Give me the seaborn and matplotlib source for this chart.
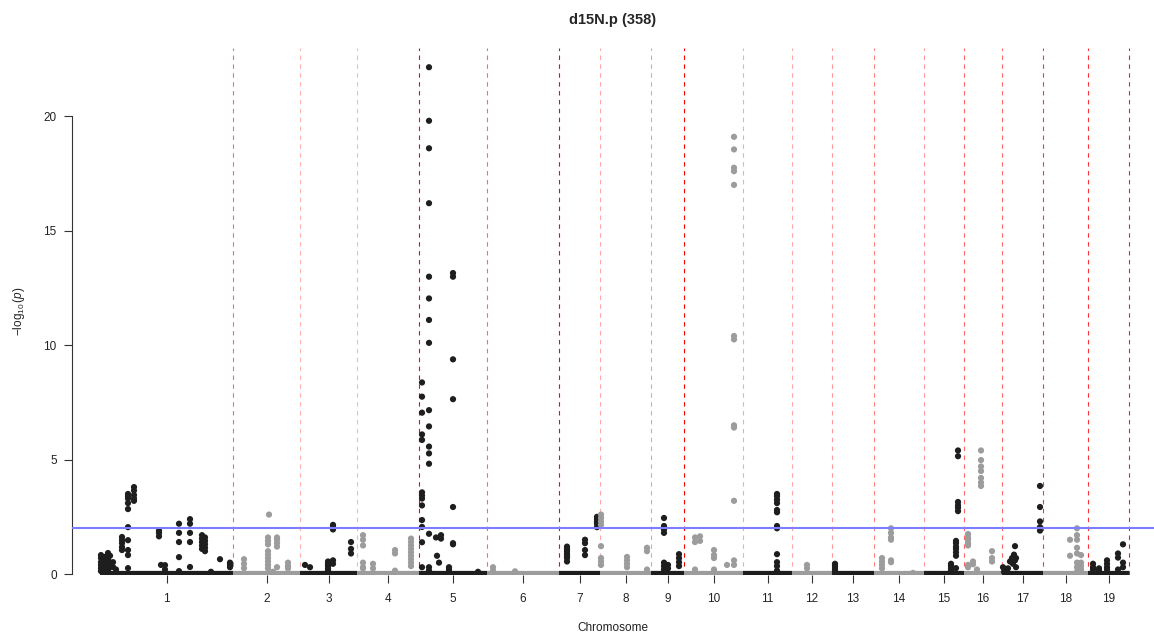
import numpy as np
import pandas as pd
import matplotlib
matplotlib.use('Agg')
import matplotlib.pyplot as plt
import seaborn as sns

# chromosome layout (length in plot units) and boundary line strength
chromosomes = list(range(1, 20))
chrom_len = [133, 67, 57, 62, 68, 72, 41, 51, 33, 59, 49, 40, 42, 50, 40, 38, 41, 45, 41]
line_alpha = [0.6, 0.3, 0.3, 1.0, 0.6, 1.0, 0.35, 0.4, 1.0, 0.35,
              0.35, 0.4, 0.5, 0.4, 0.6, 0.6, 0.8, 0.8, 0.9]
threshold = 2
title = 'd15N.p (358)'

# marker positions within each chromosome and their -log10(p)
snp_pos = [
    [1, 1, 1, 1, 1, 1, 3, 3, 3, 3, 5, 5, 5, 5, 8, 8, 8, 8, 8, 8, 10, 10, 10, 13, 13, 16,
     22, 22, 22, 22, 22, 28, 28, 28, 28, 28, 28, 28, 28, 28, 28, 34, 34, 34, 34, 34,
     59, 59, 59, 61, 65, 65, 79, 79, 79, 79, 79, 90, 90, 90, 90, 90,
     102, 102, 102, 102, 102, 105, 105, 105, 105, 105, 111, 120, 130, 130, 130],
    [11, 11, 11, 35, 35, 35, 35, 35, 35, 35, 35, 35, 36, 44, 44, 44, 44, 44, 40, 55, 55, 55],
    [5, 10, 28, 28, 28, 28, 28, 33, 33, 33, 33, 33, 51, 51, 51],
    [6, 6, 6, 6, 6, 6, 16, 16, 38, 38, 38, 54, 54, 54, 54, 54, 54, 54, 54, 54],
    [3, 3, 3, 3, 3, 3, 3, 3, 3, 3, 3, 3, 3,
     10, 10, 10, 10, 10, 10, 10, 10, 10, 10, 10, 10, 10, 10, 10, 10,
     17, 18, 20, 22, 22, 30, 30, 30, 34, 34, 34, 34, 34, 34, 34, 59],
    [6, 6, 28],
    [8, 8, 8, 8, 8, 8, 8, 26, 26, 26, 26, 38, 38, 38, 38, 38],
    [1, 1, 1, 1, 1, 1, 1, 1, 27, 27, 27, 27, 47, 47, 47],
    [13, 13, 13, 13, 13, 13, 13, 13, 17, 17, 28, 28, 28, 28],
    [11, 11, 11, 16, 16, 30, 30, 30, 30, 30, 43,
     50, 50, 50, 50, 50, 50, 50, 50, 50, 50, 50, 50],
    [34, 34, 34, 34, 34, 34, 34, 34, 34, 34, 34, 34],
    [15, 15],
    [3, 3, 3, 3],
    [8, 8, 8, 8, 17, 17, 17, 17, 17, 17, 39],
    [27, 27, 27, 27, 27, 32, 32, 32, 32, 32, 32, 32, 34, 34, 34, 34, 34, 34],
    [4, 4, 4, 4, 4, 4, 4, 9, 9, 13, 17, 17, 17, 17, 17, 17, 17, 28, 28, 28],
    [1, 2, 4, 6, 8, 10, 11, 12, 13, 13, 14, 14, 38, 38, 38, 38, 38],
    [27, 27, 34, 34, 34, 34, 34, 34, 34, 34, 38, 38, 38, 38],
    [5, 5, 5, 11, 11, 19, 19, 19, 19, 30, 30, 30, 35, 35, 35],
]
snp_logp = [
    [0.83, 0.7, 0.52, 0.39, 0.26, 0.13, 0.6, 0.45, 0.3, 0.15, 0.75, 0.55, 0.4, 0.25,
     0.92, 0.74, 0.61, 0.48, 0.31, 0.15, 0.8, 0.5, 0.3, 0.52, 0.31, 0.2,
     1.62, 1.48, 1.35, 1.18, 1.05, 3.5, 3.4, 3.3, 3.1, 2.84, 2.05, 1.48, 1.05, 0.83, 0.26,
     3.8, 3.65, 3.45, 3.3, 3.2, 1.9, 1.8, 1.65, 0.4, 0.39, 0.2,
     2.2, 1.8, 1.4, 0.74, 0.13, 2.4, 2.2, 1.8, 1.4, 0.31,
     1.7, 1.55, 1.4, 1.25, 1.1, 1.6, 1.45, 1.3, 1.15, 1.0, 0.1, 0.65, 0.5, 0.4, 0.3],
    [0.65, 0.45, 0.26, 1.6, 1.45, 1.3, 1.0, 0.85, 0.7, 0.55, 0.4, 0.25, 2.6,
     1.6, 1.5, 1.35, 1.2, 0.3, 0.1, 0.5, 0.35, 0.25],
    [0.4, 0.3, 0.55, 0.45, 0.35, 0.25, 0.15, 2.15, 2.05, 1.95, 0.6, 0.45, 1.4, 1.1, 0.9],
    [1.7, 1.5, 1.25, 0.5, 0.3, 0.25, 0.45, 0.25, 1.05, 0.9, 0.15,
     1.55, 1.4, 1.25, 1.1, 0.95, 0.8, 0.65, 0.5, 0.35],
    [8.37, 7.75, 7.05, 6.1, 5.86, 3.57, 3.43, 3.3, 3.0, 2.36, 2.06, 1.39, 0.3,
     22.14, 19.8, 18.6, 16.2, 12.99, 12.04, 11.1, 10.1, 7.16, 6.45, 5.57, 5.27, 4.82, 1.76, 0.3, 0.15,
     1.6, 0.8, 0.5, 1.7, 1.55, 0.3, 0.2, 0.1, 13.15, 12.99, 9.38, 7.64, 2.93, 1.35, 1.3, 0.1],
    [0.3, 0.15, 0.12],
    [1.2, 1.1, 1.0, 0.9, 0.8, 0.7, 0.55, 1.5, 1.35, 1.05, 0.83, 2.5, 2.4, 2.3, 2.2, 2.05],
    [2.6, 2.45, 2.3, 2.15, 1.22, 0.7, 0.55, 0.4, 0.75, 0.6, 0.45, 0.3, 1.15, 1.0, 0.2],
    [2.45, 2.1, 1.95, 1.8, 0.5, 0.35, 0.2, 0.1, 0.4, 0.25, 0.87, 0.7, 0.52, 0.35],
    [1.6, 1.4, 0.2, 1.65, 1.45, 1.05, 0.83, 0.7, 0.2, 0.1, 0.4,
     19.1, 18.55, 17.75, 17.6, 17.0, 10.4, 10.25, 6.5, 6.4, 3.2, 0.6, 0.4],
    [3.5, 3.4, 3.25, 3.1, 2.8, 2.7, 2.1, 2.0, 0.87, 0.52, 0.35, 0.15],
    [0.4, 0.25],
    [0.45, 0.35, 0.25, 0.15],
    [0.7, 0.55, 0.4, 0.25, 2.0, 1.8, 1.6, 1.5, 0.6, 0.52, 0.05],
    [0.45, 0.35, 0.25, 0.15, 0.05, 1.45, 1.35, 1.2, 1.1, 0.95, 0.8, 0.26,
     5.4, 5.15, 3.15, 3.0, 2.9, 2.75],
    [1.75, 1.6, 1.5, 1.35, 1.25, 0.4, 0.3, 0.55, 0.43, 0.2,
     5.4, 4.98, 4.7, 4.5, 4.2, 4.0, 3.85, 1.0, 0.7, 0.55],
    [0.3, 0.1, 0.2, 0.25, 0.55, 0.7, 0.45, 0.85, 0.6, 1.22, 0.7, 0.3,
     3.85, 2.93, 2.3, 2.05, 1.9],
    [1.5, 0.8, 2.0, 1.7, 1.5, 1.15, 0.9, 0.5, 0.3, 0.1, 0.83, 0.5, 0.35, 0.2],
    [0.45, 0.3, 0.2, 0.25, 0.15, 0.6, 0.45, 0.3, 0.2, 0.9, 0.72, 0.2, 1.3, 0.5, 0.3],
]

black = '#1e1e1e'
grey = '#9c9c9c'

starts = np.concatenate([[0], np.cumsum(chrom_len)[:-1]])
ends = starts + np.array(chrom_len)
mids = (starts + ends) / 2

rows = []
for i, c in enumerate(chromosomes):
    for p, v in zip(snp_pos[i], snp_logp[i]):
        rows.append({'chr': c, 'x': starts[i] + p, 'logp': v, 'grp': c % 2})
data = pd.DataFrame(rows)

sns.set_theme(style='white')
plt.rcParams['font.family'] = ['Liberation Sans', 'DejaVu Sans']
plt.rcParams['mathtext.fontset'] = 'custom'
plt.rcParams['mathtext.rm'] = 'Liberation Sans'
plt.rcParams['mathtext.it'] = 'Liberation Sans:italic'

fig = plt.figure(figsize=(11.54, 6.39), dpi=100)
ax = fig.add_axes([72 / 1154, 64 / 639, 1082 / 1154, 527 / 639])

# background band of non-significant markers sitting on zero
for i, c in enumerate(chromosomes):
    ax.hlines(0, starts[i], ends[i], color=black if c % 2 else grey, lw=4.5, zorder=2)

sns.scatterplot(data=data, x='x', y='logp', hue='grp', palette={1: black, 0: grey},
                s=20, linewidth=0, legend=False, ax=ax, zorder=3)

for i in range(len(chromosomes)):
    ax.axvline(ends[i], color='red', alpha=line_alpha[i], lw=0.8,
               linestyle=(0, (4, 4)), zorder=1)
ax.axhline(threshold, color='#7d7dff', lw=1.5, zorder=4)

ax.set_xlim(-28, 1054)
ax.set_ylim(-0.04, 22.98)
ax.set_xticks(mids)
ax.set_xticklabels([str(c) for c in chromosomes])
ax.set_yticks([0, 5, 10, 15, 20])

for s in ['top', 'right', 'bottom']:
    ax.spines[s].set_visible(False)
ax.spines['left'].set_bounds(0, 20)
ax.spines['left'].set_color('#333333')
ax.spines['left'].set_linewidth(0.8)
ax.tick_params(axis='both', length=6, width=0.8, color='#333333', labelsize=8.5,
               labelcolor='#222222', direction='out', pad=5)
ax.tick_params(axis='x', bottom=True, pad=7)
ax.tick_params(axis='y', left=True)

ax.set_xlabel('Chromosome', fontsize=8.5, color='#222222', labelpad=12)
ax.set_ylabel(r'$-\log_{10}(\mathit{p})$', fontsize=8.5, color='#222222', labelpad=12)
ax.set_title(title, fontsize=10.5, fontweight='bold', pad=17)

plt.savefig('out.png', dpi=100)
plt.close()
